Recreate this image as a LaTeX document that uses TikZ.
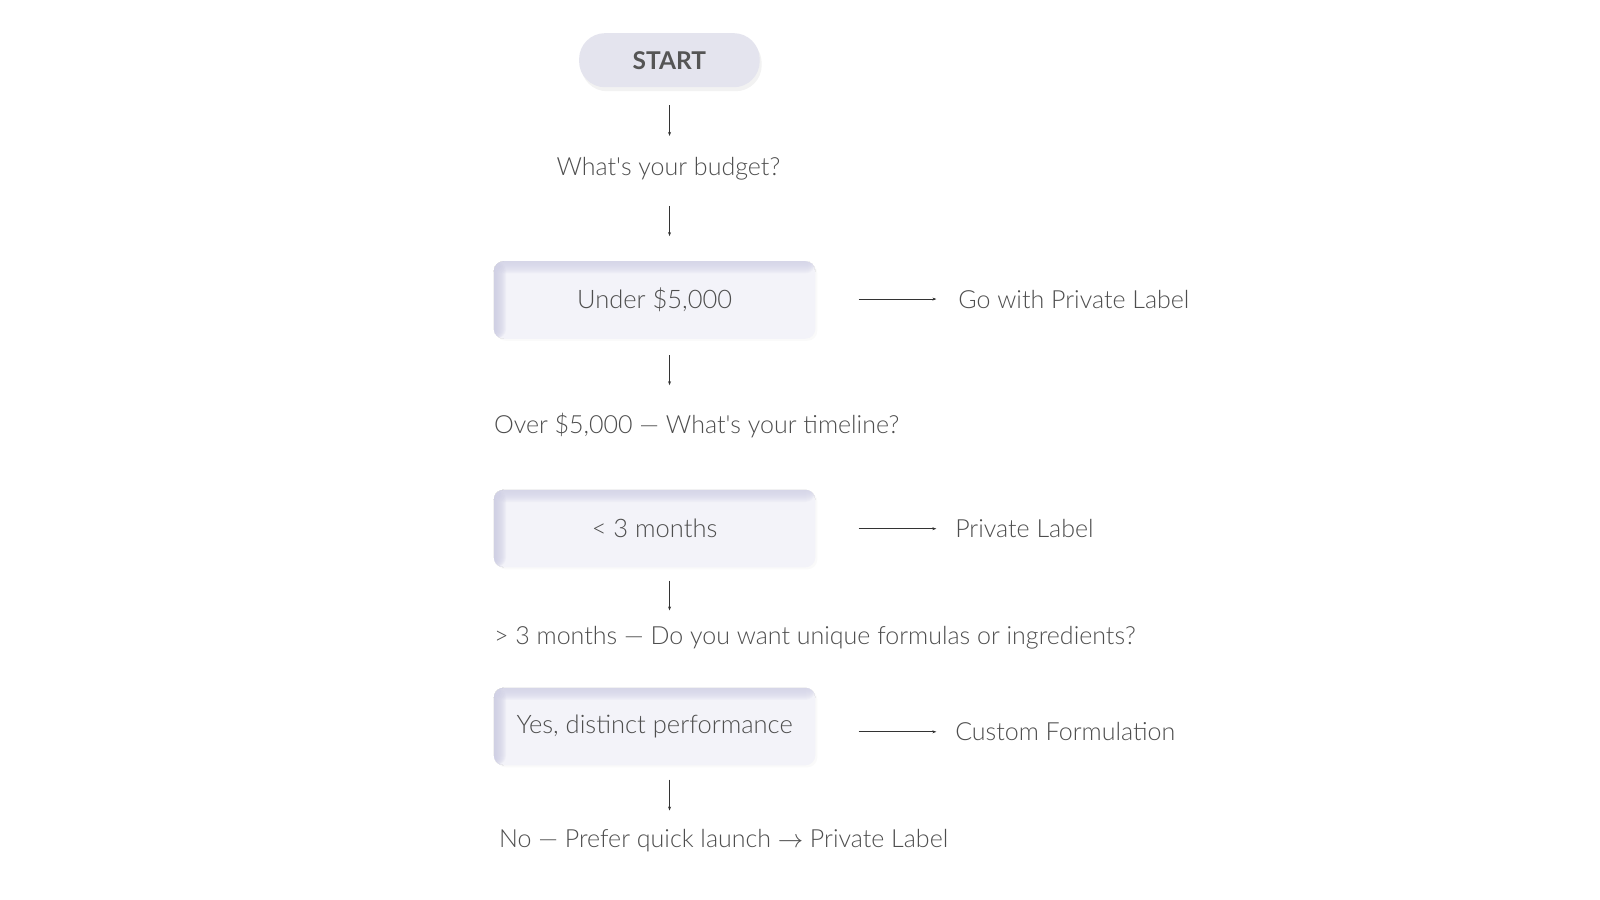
\documentclass[tikz,border=0pt]{standalone}
\usepackage{fontspec}
\newfontfamily\lato{Lato Light}[BoldFont=Lato Bold]
\usetikzlibrary{arrows.meta,shadows}

\definecolor{pillfill}{HTML}{E4E4EE}
\definecolor{boxfill}{HTML}{F3F3F9}
\definecolor{topshade}{HTML}{D4D4E8}
\definecolor{leftshade}{HTML}{CCCCE3}
\definecolor{textgray}{HTML}{4E4E4E}
\definecolor{startgray}{HTML}{555555}
\definecolor{linegray}{HTML}{333333}

\begin{document}
\begin{tikzpicture}[x=1pt, y=-1pt, scale=1.0204, every node/.append style={transform shape},
    pill node/.style={rounded corners=26pt, fill=pillfill, minimum width=177pt, minimum height=53pt, inner sep=0pt,
      text=startgray, font=\lato\fontsize{24pt}{28pt}\selectfont\bfseries,
      drop shadow={opacity=0.10, shadow xshift=2pt, shadow yshift=-4pt}},
    box node/.style={rounded corners=10pt, minimum width=315pt, minimum height=76pt, inner sep=0pt,
      fill=boxfill, text=textgray, font=\lato\fontsize{25pt}{29pt}\selectfont,
      drop shadow={opacity=0.04, shadow xshift=2pt, shadow yshift=-2pt},
      path picture={
        \foreach \d in {1,...,12} {
          \fill[topshade, opacity=0.14] (path picture bounding box.north west) rectangle ([yshift=-\d pt]path picture bounding box.north east);
          \fill[leftshade, opacity=0.14] (path picture bounding box.north west) rectangle ([xshift=\d pt]path picture bounding box.south west);
        }
      }},
    text node/.style={text=textgray, inner sep=0pt, text height=20pt, text depth=2pt, font=\lato\fontsize{24.5pt}{28pt}\selectfont},
    flow/.style={draw=linegray, line width=0.9pt, -{Stealth[length=4pt, width=3pt]}},
    ]
  \fill[white] (0,0) rectangle (1568,882);

  \node[pill node] (start) at (656,59) {START};
  \node[text node] (budget) at (655,163) {What's your budget?};

  \node[box node] (under) at (641.5,294) {Under \$5,000};
  \node[text node, anchor=west] (go) at (939,293) {Go with Private Label};
  \node[text node, anchor=west] (over) at (484,416) {Over \$5,000 — What's your timeline?};

  \node[box node] (three) at (641.5,518) {< 3 months};
  \node[text node, anchor=west] (private) at (936,518) {Private Label};
  \node[text node, anchor=west] (more) at (484,623) {> 3 months — Do you want unique formulas or ingredients?};

  \node[box node] (yes) at (641.5,712) {Yes, distinct performance};
  \node[text node, anchor=west] (custom) at (936,717) {Custom Formulation};
  \node[text node, anchor=west] (no) at (489,822) {No — Prefer quick launch $\rightarrow$ Private Label};

  % down the middle
  \draw[flow, shorten <=18pt, shorten >=19pt] (start.south) -- (budget.north -| start.south);
  \draw[flow, shorten <=28pt, shorten >=25pt] (budget.south -| start.south) -- (under.north -| start.south);
  \draw[flow, shorten <=16pt, shorten >=28pt] (under.south -| start.south) -- (over.north -| start.south);
  \draw[flow, shorten <=13pt, shorten >=14pt] (three.south -| start.south) -- (more.north -| start.south);
  \draw[flow, shorten <=14pt, shorten >=17pt] (yes.south -| start.south) -- (no.north -| start.south);

  % to the right
  \draw[flow, shorten <=43pt, shorten >=22pt] (under.east |- go.west) -- (go.west);
  \draw[flow, shorten <=43pt, shorten >=19pt] (three.east |- private.west) -- (private.west);
  \draw[flow, shorten <=43pt, shorten >=19pt] (yes.east |- custom.west) -- (custom.west);
\end{tikzpicture}
\end{document}
